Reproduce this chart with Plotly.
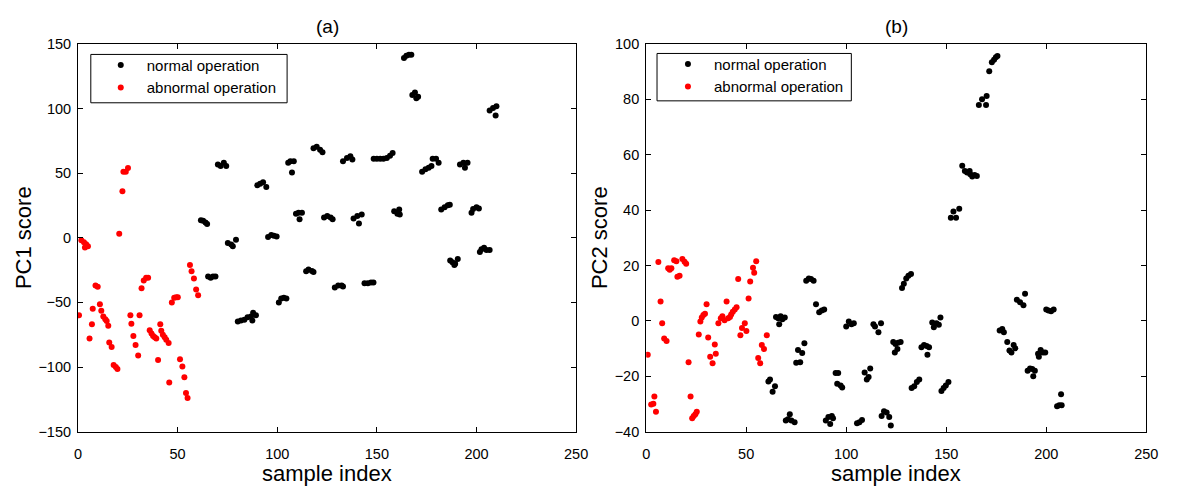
import plotly.graph_objects as go

# ---- PC1 scores (panel a) ----
a_norm_x = [61.7, 62.8, 64.0, 64.8, 65.3, 66.6, 67.8, 69.0, 70.2, 71.6, 73.2, 74.4,
            75.2, 76.9, 77.7, 79.3, 80.2, 81.8, 83.5, 85.1, 86.8, 87.9, 89.3, 87.5,
            90.0, 91.4, 92.9, 94.5, 95.4, 97.0, 98.3, 99.7, 100.8, 102.0, 103.3, 104.6,
            105.5, 106.6, 108.3, 107.4, 109.4, 110.7, 112.4, 111.2, 114.5, 115.7, 117.4, 118.2,
            118.2, 119.8, 121.5, 122.7, 123.5, 125.1, 126.8, 127.8, 128.9, 130.6, 132.3, 133.0,
            133.0, 135.0, 136.7, 137.7, 138.3, 140.2, 142.4, 141.0, 143.8, 145.5, 147.1, 148.3,
            148.4, 150.0, 151.7, 153.3, 155.0, 156.6, 157.9, 158.7, 160.3, 161.5, 161.2,
            163.6, 164.8, 166.1, 167.3, 167.8, 169.1, 170.7, 169.8, 172.7, 174.4, 176.0, 177.4,
            178.0, 179.7, 181.0, 182.3, 184.0, 185.6, 186.6, 186.8, 187.9, 189.3, 190.6, 188.9,
            191.7, 193.4, 195.5, 194.2, 197.5, 198.3, 200.0, 201.2, 201.7, 202.5, 203.8, 205.0,
            206.6, 206.6, 208.3, 210.0, 209.6]
a_norm_y = [13.6, 13.1, 11.8, 10.6, -30, -31, -30, -30, 56.7, 55.5, 58, 55.5,
            -4, -5.2, -6.5, -1.5, -64.8, -64, -63.5, -61.5, -61, -58, -60, -64,
            40.5, 41.8, 43, 39.3, 0.5, 2.2, 1.5, 1.0, -50, -47, -46.5, -47,
            58, 59.2, 59.2, 50.5, 18.6, 19.4, 19.4, 14.3, -26, -24.5, -25.7, -26.5,
            69.2, 70.4, 68, 66.2, 15.6, 16.8, 15.6, 14.3, -38.5, -37, -37, -37.8,
            59.2, 61.7, 63, 60.5, 14.8, 16.8, 18, 11.1, -35.2, -35.2, -34.7, -34.7,
            61, 61, 61, 61, 61.7, 63.5, 65.5, 20.5, 18.6, 18, 21.8,
            139, 140.8, 141.5, 141.5, 110.3, 112.3, 109.1, 107.9, 51, 53, 54.2, 55.5,
            61, 61, 58, 21.8, 23.6, 25.1, 25.6, -17.7, -19, -20.2, -16.5, -21,
            56.7, 58, 58, 54.2, 19.4, 22.3, 23.6, 22.6, -11, -9, -7.7, -9.5,
            -9.5, 98.4, 100.4, 101.6, 94.6]

a_abn_x = [0.5, 1.7, 3.0, 4.1, 3.5, 5.0, 20.7, 7.4, 7.0, 5.8, 8.8, 9.9, 11.0, 11.7,
           12.7, 13.7, 14.4, 15.2, 15.7, 16.9, 17.9, 19.0, 19.8, 22.3, 22.8, 24.0, 25.1,
           26.3, 26.8, 27.8, 28.9, 30.2, 30.9, 31.9, 33.0, 34.2, 35.2, 36.0, 36.9, 37.7,
           38.5, 39.3, 41.3, 41.8, 42.6, 43.5, 44.3, 45.5, 40.2, 45.8, 47.1, 48.3, 49.3,
           50.1, 51.2, 52.4, 53.4, 54.2, 55.0, 56.2, 57.0, 58.2, 59.3, 60.3]
a_abn_y = [-60, -2, -3.5, -5, -7.5, -6.5, 3, -55, -67, -78, -37, -38, -51.5, -56.5,
           -61, -63, -64.5, -68, -81, -84.5, -98.5, -100, -101.5, 36, 51, 51, 54,
           -60, -66.5, -76, -83, -91, -60, -39, -33, -31, -31, -71.5, -74, -76,
           -77, -78, -67, -72, -75, -77, -79, -81.5, -94.5, -112, -50, -46.5, -46,
           -46, -94, -99.5, -108, -120, -124, -21, -26, -31.5, -40, -44.5]

# ---- PC2 scores (panel b) ----
b_norm_x = [61.1, 61.9, 63.2, 64.4, 64.9, 66.0, 67.2, 68.1, 69.3, 66.5,
            69.8, 70.9, 71.8, 72.6, 74.2, 75.0, 75.9, 77.0, 78.0, 79.1,
            80.0, 81.3, 82.4, 83.7, 84.9, 86.5, 87.8, 89.0,
            89.8, 91.1, 92.0, 92.8, 93.4, 94.7, 96.0, 95.5, 97.2, 98.0,
            100.0, 101.3, 102.6, 103.8, 105.4, 106.6, 107.9,
            109.2, 110.3, 111.2, 112.0, 113.6, 114.4, 116.1, 117.4,
            117.7, 118.9, 120.2, 121.5, 122.3, 123.5, 124.6, 125.9, 127.2, 124.3, 125.6,
            127.9, 128.8, 130.0, 131.1, 132.4, 132.7, 134.0, 135.3, 136.5,
            137.6, 138.9, 140.2, 141.4, 140.6, 143.0, 143.8, 145.1, 146.3, 147.1,
            147.6, 148.7, 149.8, 151.1, 152.3, 154.9, 153.6, 156.5,
            158.0, 159.3, 160.4, 161.7, 162.0, 163.0, 164.2, 165.3,
            166.3, 167.9, 169.9, 170.2, 171.5, 172.8, 173.9, 174.8, 175.6,
            176.7, 178.0, 178.8, 180.5, 181.6, 182.6, 183.7, 184.5,
            185.3, 186.9, 188.6, 189.4, 190.7, 191.9, 193.0, 194.3, 193.5,
            195.9, 197.2, 198.4, 199.5, 196.3, 200.0, 201.1, 202.4, 203.7,
            205.4, 206.5, 207.7, 207.4]
b_norm_y = [-21.9, -21.2, -25.6, -23.6, 1.4, 0.9, 1.7, 0.6, 1.2, -1.2,
            -36, -35.5, -33.7, -36, -36.6, -15.1, -10.5, -14.9, -11.6, -8.1,
            14.5, 15.3, 15.1, 14.5, 6, 3.1, 3.7, 4.1,
            -36, -34.7, -37.2, -34.3, -35.2, -18.8, -18.8, -22.7, -23.3, -24.1,
            -2, -0.2, -1.2, -0.9, -37, -36.6, -35.8,
            -18.6, -21.2, -20.3, -17.2, -1.2, -2, -4.1, -0.9,
            -34.3, -32.6, -33.1, -34.7, -37.8, -7.6, -8.4, -7.9, -7.6, -11.4, -10.2,
            11.9, 13.4, 15.3, 16.3, 16.9, -24.2, -23.6, -22.1, -21.2,
            -9.5, -8.7, -9.1, -9.5, -12.2, -0.6, -2.3, -0.9, -1.4, 1.2,
            -25.3, -24.2, -23.3, -22.1, 37.2, 37.2, 39.5, 40.5,
            56, 54.1, 53.5, 54.1, 52.9, 52.1, 52.6, 52.3,
            77.9, 80, 77.9, 81.2, 90.1, 93.3, 94.2, 95.1, 95.6,
            -3.5, -2.9, -4.1, -7.6, -10.7, -11.4, -8.7, -9.9,
            7.6, 6.7, 5.6, 9.8, -18, -17.2, -17.4, -18, -20,
            -11.9, -10.5, -11.4, -11.4, -13, 4.1, 3.7, 3.5, 4.1,
            -30.8, -30.5, -30.5, -26.5]

b_abn_x = [0.8, 2.5, 3.6, 4.1, 4.9, 6.1, 7.2, 8.0, 9.0, 10.2, 11.0, 11.8, 12.6, 14.0,
           15.1, 15.6, 16.7, 18.1, 19.2, 20.0, 21.2, 22.2, 23.0, 23.8, 24.6, 25.3,
           26.3, 27.1, 27.8, 28.6, 29.4, 30.2, 31.0, 32.0, 33.2, 34.3, 34.8, 36.1,
           37.3, 38.1, 39.2, 40.2, 41.0, 41.9, 42.5, 43.3, 44.3, 45.2, 46.0, 47.1,
           47.9, 49.3, 50.1, 51.2, 52.0, 53.4, 54.0, 55.0, 56.0, 57.0, 57.8, 58.9, 60.3]
b_abn_y = [-12.2, -30.2, -29.9, -27.3, -32.8, 21.2, 7, -0.9, -6.4, -7.3, 19, 18.4, 19, 21.9,
           21.5, 15.9, 16.3, 22.3, 21.3, 20.6, -14.9, -27.3, -35.2, -34.3, -33.7, -32.8,
           -4.9, -0.2, 1.2, 2.1, 2.6, 6, -6, -13, -15.3, -8.5, -11.9, -0.9,
           0.9, 1.7, 0.2, 7, 0.9, 1.4, 2.3, 3.3, 4.1, 4.9, 15.1, -5.2,
           -2.6, -0.9, -3.7, 8.1, 14.2, 19.2, 17.4, 21.5, -13.4, -15.3, -8.7, -10.2, -5.2]

a_yticks = [-150, -100, -50, 0, 50, 100, 150]
b_yticks = [-40, -20, 0, 20, 40, 60, 80, 100]
x_ticks = [0, 50, 100, 150, 200, 250]

W, H = 1179, 489
FONT = "Arial, Liberation Sans, sans-serif"
MS = 6


def px(v):
    return v / W


def py(v):
    return 1 - v / H


fig = go.Figure()

fig.add_trace(go.Scatter(x=a_norm_x, y=a_norm_y, mode="markers", name="normal operation",
                         marker=dict(color="black", size=MS), xaxis="x", yaxis="y",
                         legend="legend"))
fig.add_trace(go.Scatter(x=a_abn_x, y=a_abn_y, mode="markers", name="abnormal operation",
                         marker=dict(color="#ff0000", size=MS), xaxis="x", yaxis="y",
                         legend="legend"))
fig.add_trace(go.Scatter(x=b_norm_x, y=b_norm_y, mode="markers", name="normal operation",
                         marker=dict(color="black", size=MS), xaxis="x2", yaxis="y2",
                         legend="legend2"))
fig.add_trace(go.Scatter(x=b_abn_x, y=b_abn_y, mode="markers", name="abnormal operation",
                         marker=dict(color="#ff0000", size=MS), xaxis="x2", yaxis="y2",
                         legend="legend2"))

axis_common = dict(showline=True, linecolor="black", linewidth=1, mirror="ticks",
                   ticks="inside", ticklen=5, tickcolor="black", showgrid=False,
                   zeroline=False, tickfont=dict(family=FONT, size=14.5, color="black"))
title_font = dict(family=FONT, size=22, color="black")

legend_common = dict(xanchor="left", yanchor="top", borderwidth=0,
                     bgcolor="rgba(0,0,0,0)", itemwidth=42, tracegroupgap=0,
                     font=dict(family=FONT, size=15, color="black"))

fig.update_layout(
    width=W, height=H,
    margin=dict(l=0, r=0, t=0, b=0),
    paper_bgcolor="white", plot_bgcolor="white",
    font=dict(family=FONT, color="black"),
    xaxis=dict(domain=[px(75), px(580)], range=[0, 250], tickvals=x_ticks, anchor="y",
               ticklabelstandoff=9, **axis_common),
    yaxis=dict(domain=[py(438), py(37)], range=[-150, 150], tickvals=a_yticks, anchor="x",
               ticklabelstandoff=3,
               title=dict(text="PC1 score", font=title_font, standoff=0), **axis_common),
    xaxis2=dict(domain=[px(651), px(1158)], range=[0, 250], tickvals=x_ticks, anchor="y2",
                ticklabelstandoff=9, **axis_common),
    yaxis2=dict(domain=[py(438), py(37)], range=[-40, 100], tickvals=b_yticks, anchor="x2",
                ticklabelstandoff=3,
                title=dict(text="PC2 score", font=title_font, standoff=0), **axis_common),
    legend=dict(x=px(92), y=py(42), **legend_common),
    legend2=dict(x=px(667), y=py(41), **legend_common),
    showlegend=True,
    shapes=[
        dict(type="rect", xref="paper", yref="paper", x0=px(88), x1=px(287),
             y0=py(98), y1=py(48), line=dict(color="black", width=1),
             fillcolor="white", layer="above"),
        dict(type="rect", xref="paper", yref="paper", x0=px(662), x1=px(859),
             y0=py(96), y1=py(47), line=dict(color="black", width=1),
             fillcolor="white", layer="above"),
    ],
    annotations=[
        dict(text="(a)", x=px((75 + 580) / 2), y=py(19), xref="paper", yref="paper",
             xanchor="center", yanchor="middle", showarrow=False,
             font=dict(family=FONT, size=19, color="black")),
        dict(text="(b)", x=px((651 + 1158) / 2), y=py(19), xref="paper", yref="paper",
             xanchor="center", yanchor="middle", showarrow=False,
             font=dict(family=FONT, size=19, color="black")),
        dict(text="sample index", x=px((75 + 580) / 2), y=py(481), xref="paper",
             yref="paper", xanchor="center", yanchor="middle", showarrow=False,
             font=title_font),
        dict(text="sample index", x=px((651 + 1158) / 2), y=py(481), xref="paper",
             yref="paper", xanchor="center", yanchor="middle", showarrow=False,
             font=title_font),
    ],
)

fig.write_html("out.html")
